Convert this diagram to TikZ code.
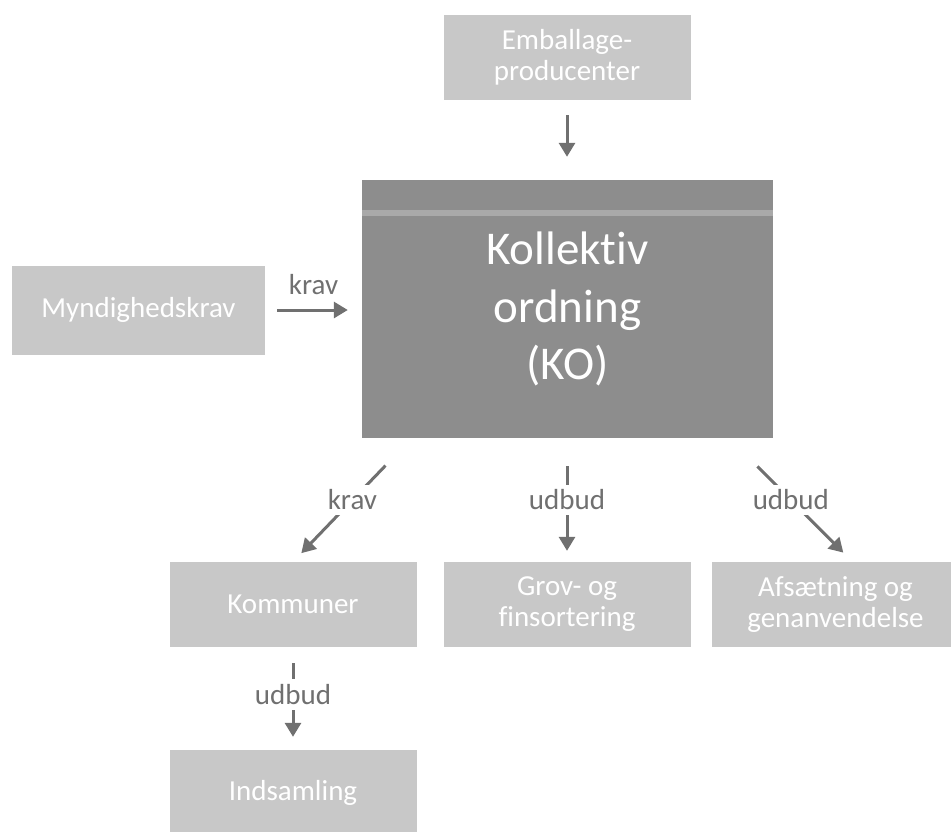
\documentclass[tikz,border=0pt]{standalone}
\usepackage{fontspec}
\setmainfont{Carlito}[Ligatures=NoCommon]
\usetikzlibrary{arrows.meta}
\definecolor{boxgray}{HTML}{C8C8C8}
\definecolor{kogray}{HTML}{8D8D8D}
\definecolor{stripegray}{HTML}{A9A9A9}
\definecolor{arrowgray}{HTML}{707070}
\begin{document}
\begin{tikzpicture}[x=1pt, y=-1pt,
    box/.style={fill=boxgray, text=white, minimum width=247pt, minimum height=85pt,
      inner sep=0pt, align=center, font=\fontsize{29}{31}\selectfont},
    kobox/.style={fill=kogray, text=white, minimum width=411pt, minimum height=258pt,
      inner sep=0pt, align=center, font=\fontsize{47}{57.5}\selectfont},
    flow/.style={draw=arrowgray, line width=3pt, -{Triangle[length=14pt,width=16pt]}},
    lbl/.style={fill=white, text=arrowgray, inner sep=5pt, font=\fontsize{29}{32}\selectfont}]
  \useasboundingbox (0,0) rectangle (951,831);
  \node[box] (emb) at (567,57.5) {Emballage-\\producenter};
  \node[kobox] (ko) at (567.5,309) {Kollektiv\\ordning\\(KO)};
  \fill[stripegray] (ko.north west) ++(0,30) rectangle ++(411,6);
  \node[box, minimum width=253pt, minimum height=89pt] (mynd) at (138.5,310) {Myndighedskrav};
  \node[box] (kom) at (293,604.5) {Kommuner};
  \node[box] (grov) at (567,604.5) {Grov- og\\finsortering};
  \node[box] (afs) at (835.5,604.5) {Afsætning og\\genanvendelse};
  \node[box] (ind) at (293,792.5) {Indsamling};
  \draw[flow, shorten <=15pt, shorten >=23pt] (emb.south) -- (emb.south |- ko.north);
  \draw[flow, shorten <=12pt, shorten >=14pt] (mynd.east) -- (mynd.east -| ko.west)
    node[midway, above=14pt, text=arrowgray, inner sep=0pt, font=\fontsize{29}{32}\selectfont] {krav};
  \draw[flow, shorten <=38pt, shorten >=12pt] ([xshift=50pt]ko.south west) -- (kom.north)
    node[lbl, pos=.5] {krav};
  \draw[flow, shorten <=28pt, shorten >=11pt] (ko.south -| grov.north) -- (grov.north)
    node[lbl, pos=.5] {udbud};
  \draw[flow, shorten <=40pt, shorten >=13pt] ([xshift=-44pt]ko.south east) -- ([xshift=17pt]afs.north)
    node[lbl, pos=.5] {udbud};
  \draw[flow, shorten <=16pt, shorten >=13pt] (kom.south) -- (ind.north)
    node[lbl, pos=.46] {udbud};
\end{tikzpicture}
\end{document}
